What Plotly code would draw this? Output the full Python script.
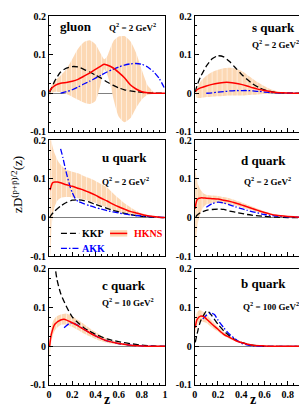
import plotly.graph_objects as go

# ---------------- data ----------------
flavors = ["gluon", "s quark", "u quark", "d quark", "c quark", "b quark"]
q2_labels = ["Q<sup>2</sup> = 2 GeV<sup>2</sup>", "Q<sup>2</sup> = 2 GeV<sup>2</sup>",
             "Q<sup>2</sup> = 2 GeV<sup>2</sup>", "Q<sup>2</sup> = 2 GeV<sup>2</sup>",
             "Q<sup>2</sup> = 10 GeV<sup>2</sup>", "Q<sup>2</sup> = 100 GeV<sup>2</sup>"]

# gluon
g_hkns_z = [0.005, 0.02, 0.05, 0.1, 0.15, 0.2, 0.25, 0.3, 0.35, 0.4, 0.45, 0.475, 0.5, 0.55, 0.6, 0.65, 0.7, 0.75, 0.8, 0.85, 0.9, 1.0]
g_hkns = [0.005, 0.012, 0.02, 0.026, 0.028, 0.031, 0.036, 0.044, 0.052, 0.062, 0.071, 0.075, 0.073, 0.066, 0.054, 0.04, 0.022, 0.011, 0.004, 0.001, 0.0, 0.0]
g_band_z = [0.005, 0.02, 0.05, 0.1, 0.15, 0.2, 0.25, 0.3, 0.35, 0.4, 0.45, 0.475, 0.5, 0.53, 0.56, 0.6, 0.65, 0.7, 0.75, 0.8, 0.85, 0.9]
g_band_hi = [0.008, 0.02, 0.032, 0.046, 0.063, 0.088, 0.115, 0.132, 0.137, 0.127, 0.1, 0.088, 0.095, 0.118, 0.137, 0.147, 0.148, 0.135, 0.105, 0.06, 0.02, 0.003]
g_band_lo = [-0.008, 0.0, 0.004, 0.003, -0.002, -0.009, -0.017, -0.024, -0.028, -0.02, 0.03, 0.062, 0.05, 0.02, -0.02, -0.06, -0.075, -0.065, -0.038, -0.016, -0.004, -0.001]
g_kkp_z = [0.005, 0.02, 0.05, 0.1, 0.15, 0.2, 0.25, 0.3, 0.35, 0.4, 0.45, 0.5, 0.55, 0.6, 0.65, 0.7, 0.75, 0.8, 0.85, 0.9, 1.0]
g_kkp = [0.002, 0.012, 0.032, 0.055, 0.065, 0.069, 0.068, 0.062, 0.055, 0.047, 0.039, 0.029, 0.021, 0.014, 0.009, 0.006, 0.004, 0.002, 0.001, 0.0, 0.0]
g_akk_z = [0.1, 0.15, 0.2, 0.25, 0.3, 0.35, 0.4, 0.45, 0.5, 0.55, 0.6, 0.65, 0.7, 0.75, 0.8, 0.85, 0.9, 0.95, 1.0]
g_akk = [0.0, 0.004, 0.009, 0.016, 0.024, 0.031, 0.039, 0.047, 0.055, 0.062, 0.068, 0.073, 0.076, 0.077, 0.075, 0.068, 0.056, 0.038, 0.01]

# s quark
s_z = [0.01, 0.02, 0.05, 0.1, 0.15, 0.2, 0.25, 0.3, 0.35, 0.4, 0.45, 0.5, 0.55, 0.6, 0.65, 0.7, 0.75, 0.8, 0.9, 1.0]
s_hkns = [0.005, 0.009, 0.014, 0.019, 0.023, 0.026, 0.028, 0.028, 0.026, 0.023, 0.019, 0.014, 0.01, 0.007, 0.004, 0.002, 0.001, 0.0005, 0.0, 0.0]
s_band_hi = [0.008, 0.014, 0.03, 0.045, 0.055, 0.061, 0.065, 0.066, 0.064, 0.058, 0.048, 0.037, 0.027, 0.018, 0.011, 0.006, 0.003, 0.001, 0.0, 0.0]
s_band_lo = [-0.008, -0.012, -0.012, -0.01, -0.009, -0.008, -0.007, -0.006, -0.006, -0.006, -0.005, -0.004, -0.003, -0.002, -0.001, 0.0, 0.0, 0.0, 0.0, 0.0]
s_kkp_z = [0.005, 0.02, 0.05, 0.1, 0.15, 0.2, 0.25, 0.3, 0.35, 0.4, 0.45, 0.5, 0.55, 0.6, 0.65, 0.7, 0.75, 0.8, 0.9, 1.0]
s_kkp = [0.003, 0.02, 0.042, 0.07, 0.089, 0.097, 0.094, 0.082, 0.066, 0.05, 0.036, 0.024, 0.015, 0.009, 0.005, 0.002, 0.001, 0.0, 0.0, 0.0]
s_akk_z = [0.1, 0.15, 0.2, 0.25, 0.3, 0.35, 0.4, 0.45, 0.5, 0.55, 0.6, 0.65, 0.7, 0.8, 0.9, 1.0]
s_akk = [0.0, 0.001, 0.003, 0.004, 0.006, 0.007, 0.007, 0.007, 0.006, 0.005, 0.003, 0.002, 0.001, 0.0, 0.0, 0.0]

# u quark
u_z = [0.01, 0.02, 0.03, 0.05, 0.075, 0.1, 0.15, 0.2, 0.25, 0.3, 0.35, 0.4, 0.45, 0.5, 0.55, 0.6, 0.65, 0.7, 0.75, 0.8, 0.85, 0.9, 0.95, 1.0]
u_hkns = [0.071, 0.083, 0.09, 0.092, 0.092, 0.09, 0.085, 0.081, 0.076, 0.071, 0.065, 0.058, 0.05, 0.043, 0.035, 0.028, 0.022, 0.016, 0.012, 0.008, 0.005, 0.003, 0.001, 0.0]
u_band_hi = [0.21, 0.2, 0.185, 0.165, 0.148, 0.137, 0.124, 0.119, 0.115, 0.108, 0.102, 0.095, 0.087, 0.078, 0.064, 0.05, 0.037, 0.027, 0.018, 0.011, 0.007, 0.004, 0.002, 0.0]
u_band_lo = [-0.11, -0.04, 0.0, 0.03, 0.045, 0.051, 0.053, 0.052, 0.05, 0.047, 0.043, 0.038, 0.032, 0.026, 0.02, 0.015, 0.011, 0.008, 0.005, 0.003, 0.002, 0.001, 0.0, 0.0]
u_kkp_z = [0.005, 0.02, 0.05, 0.1, 0.15, 0.2, 0.25, 0.3, 0.35, 0.4, 0.45, 0.5, 0.55, 0.6, 0.65, 0.7, 0.75, 0.8, 0.85, 0.9, 1.0]
u_kkp = [0.0, 0.007, 0.017, 0.03, 0.039, 0.045, 0.046, 0.044, 0.04, 0.034, 0.029, 0.024, 0.019, 0.015, 0.011, 0.008, 0.005, 0.003, 0.002, 0.001, 0.0]
u_akk_z = [0.1, 0.12, 0.15, 0.18, 0.2, 0.225, 0.25, 0.3, 0.35, 0.4, 0.45, 0.5, 0.6, 0.7, 0.8, 0.9, 1.0]
u_akk = [0.178, 0.155, 0.115, 0.082, 0.065, 0.05, 0.042, 0.036, 0.031, 0.026, 0.022, 0.018, 0.012, 0.007, 0.004, 0.002, 0.0]

# d quark
d_z = [0.005, 0.01, 0.02, 0.03, 0.05, 0.075, 0.1, 0.15, 0.2, 0.25, 0.3, 0.35, 0.4, 0.45, 0.5, 0.55, 0.6, 0.65, 0.7, 0.8, 0.9, 1.0]
d_hkns = [0.023, 0.035, 0.046, 0.049, 0.051, 0.051, 0.05, 0.049, 0.048, 0.045, 0.042, 0.038, 0.033, 0.028, 0.023, 0.018, 0.013, 0.009, 0.006, 0.003, 0.001, 0.0]
d_band_hi = [0.125, 0.115, 0.098, 0.085, 0.072, 0.063, 0.059, 0.057, 0.056, 0.053, 0.05, 0.045, 0.04, 0.034, 0.028, 0.022, 0.016, 0.012, 0.008, 0.003, 0.001, 0.0]
d_band_lo = [-0.08, -0.06, -0.03, -0.01, 0.012, 0.027, 0.034, 0.038, 0.038, 0.036, 0.034, 0.031, 0.027, 0.022, 0.018, 0.014, 0.01, 0.007, 0.005, 0.002, 0.001, 0.0]
d_kkp_z = [0.01, 0.02, 0.05, 0.1, 0.15, 0.2, 0.25, 0.3, 0.35, 0.4, 0.45, 0.5, 0.6, 0.7, 0.8, 0.9, 1.0]
d_kkp = [0.002, 0.006, 0.013, 0.019, 0.021, 0.022, 0.021, 0.017, 0.014, 0.011, 0.008, 0.006, 0.003, 0.001, 0.0, 0.0, 0.0]
d_akk_z = [0.1, 0.15, 0.2, 0.25, 0.3, 0.35, 0.4, 0.45, 0.5, 0.6, 0.7, 0.8, 0.9, 1.0]
d_akk = [0.027, 0.036, 0.04, 0.038, 0.033, 0.028, 0.023, 0.019, 0.015, 0.008, 0.004, 0.002, 0.001, 0.0]

# c quark
c_hkns_z = [0.005, 0.02, 0.05, 0.1, 0.13, 0.2, 0.25, 0.3, 0.35, 0.4, 0.45, 0.5, 0.6, 0.7, 0.8, 0.9, 1.0]
c_hkns = [0.0, 0.031, 0.057, 0.068, 0.07, 0.061, 0.053, 0.044, 0.035, 0.027, 0.02, 0.014, 0.007, 0.003, 0.001, 0.0, 0.0]
c_band_z = [0.005, 0.02, 0.04, 0.06, 0.1, 0.15, 0.2, 0.25, 0.3, 0.35, 0.4, 0.45, 0.5, 0.6, 0.7, 0.8]
c_band_hi = [0.01, 0.05, 0.068, 0.076, 0.082, 0.085, 0.078, 0.068, 0.058, 0.047, 0.037, 0.028, 0.02, 0.01, 0.004, 0.001]
c_band_lo = [-0.025, 0.01, 0.035, 0.045, 0.055, 0.056, 0.05, 0.042, 0.033, 0.026, 0.019, 0.013, 0.009, 0.004, 0.001, 0.0]
c_kkp_z = [0.04, 0.055, 0.07, 0.1, 0.15, 0.2, 0.25, 0.3, 0.35, 0.4, 0.5, 0.6, 0.7, 0.8, 0.9, 1.0]
c_kkp = [0.24, 0.2, 0.171, 0.137, 0.103, 0.076, 0.061, 0.048, 0.039, 0.031, 0.019, 0.012, 0.007, 0.003, 0.001, 0.0]
c_akk_z = [0.13, 0.17, 0.2, 0.25, 0.3, 0.4, 0.5, 0.6, 0.7, 0.8, 0.9, 1.0]
c_akk = [0.048, 0.058, 0.061, 0.054, 0.044, 0.027, 0.014, 0.007, 0.003, 0.001, 0.0, 0.0]

# b quark
b_hkns_z = [0.005, 0.02, 0.05, 0.08, 0.1, 0.15, 0.2, 0.25, 0.3, 0.35, 0.4, 0.5, 0.6, 0.7, 0.8, 0.9, 1.0]
b_hkns = [0.048, 0.069, 0.078, 0.076, 0.071, 0.057, 0.044, 0.031, 0.023, 0.015, 0.01, 0.003, 0.001, 0.0, 0.0, 0.0, 0.0]
b_band_z = [0.005, 0.02, 0.04, 0.06, 0.1, 0.15, 0.2, 0.25, 0.3, 0.35, 0.4, 0.5, 0.6]
b_band_hi = [0.065, 0.088, 0.093, 0.092, 0.083, 0.066, 0.05, 0.037, 0.027, 0.018, 0.012, 0.004, 0.001]
b_band_lo = [0.03, 0.052, 0.063, 0.064, 0.06, 0.048, 0.038, 0.027, 0.019, 0.013, 0.008, 0.002, 0.0]
b_kkp_z = [0.005, 0.03, 0.05, 0.08, 0.1, 0.12, 0.15, 0.2, 0.25, 0.3, 0.35, 0.4, 0.5, 0.6, 0.7, 0.8, 0.9, 1.0]
b_kkp = [0.01, 0.044, 0.065, 0.082, 0.091, 0.089, 0.078, 0.057, 0.04, 0.027, 0.017, 0.01, 0.003, 0.0, 0.0, 0.0, 0.0, 0.0]
b_akk_z = [0.07, 0.1, 0.14, 0.17, 0.2, 0.25, 0.3, 0.35, 0.4, 0.45, 0.5, 0.6, 0.7, 0.8, 0.9, 1.0]
b_akk = [0.071, 0.08, 0.086, 0.082, 0.068, 0.048, 0.031, 0.019, 0.008, 0.004, 0.001, 0.0, 0.0, 0.0, 0.0, 0.0]

x_tickvals = [0, 0.2, 0.4, 0.6, 0.8, 1]
x_ticktext = ["0", "0.2", "0.4", "0.6", "0.8", "1"]
y_tickvals = [-0.1, 0, 0.1, 0.2]
y_ticktext = ["-0.1", "0", "0.1", "0.2"]

panels = [
    (g_band_z, g_band_hi, g_band_lo, g_hkns_z, g_hkns, g_kkp_z, g_kkp, g_akk_z, g_akk),
    (s_z, s_band_hi, s_band_lo, s_z, s_hkns, s_kkp_z, s_kkp, s_akk_z, s_akk),
    (u_z, u_band_hi, u_band_lo, u_z, u_hkns, u_kkp_z, u_kkp, u_akk_z, u_akk),
    (d_z, d_band_hi, d_band_lo, d_z, d_hkns, d_kkp_z, d_kkp, d_akk_z, d_akk),
    (c_band_z, c_band_hi, c_band_lo, c_hkns_z, c_hkns, c_kkp_z, c_kkp, c_akk_z, c_akk),
    (b_band_z, b_band_hi, b_band_lo, b_hkns_z, b_hkns, b_kkp_z, b_kkp, b_akk_z, b_akk),
]

# ---------------- styling ----------------
SERIF = "Liberation Serif"
BAND_BG = "#fcd8b4"
RED = "#ff0000"
BLUE = "#0000ff"
KKP_DASH = "6px,3px"
AKK_DASH = "6px,2px,1.5px,2px"

col_dom = [[0.0, 0.443], [0.556, 1.0]]
row_dom = [[0.686, 1.0], [0.349, 0.663], [0.0, 0.3145]]

fig = go.Figure()
for i, (bz, bhi, blo, hz, hv, kz, kv, az, av) in enumerate(panels):
    n = i + 1
    xa = "x" if n == 1 else f"x{n}"
    ya = "y" if n == 1 else f"y{n}"
    fig.add_trace(go.Scatter(
        x=list(bz) + list(bz)[::-1], y=list(bhi) + list(blo)[::-1],
        fill="toself", mode="lines", line=dict(width=0, shape="spline", smoothing=0.6),
        fillcolor=BAND_BG,
        fillpattern=dict(shape="|", bgcolor=BAND_BG, fgcolor="white", size=5, solidity=0.2),
        xaxis=xa, yaxis=ya, showlegend=False, hoverinfo="skip"))
    fig.add_trace(go.Scatter(x=kz, y=kv, mode="lines",
                             line=dict(color="black", width=1.3, dash=KKP_DASH, shape="spline", smoothing=0.6),
                             xaxis=xa, yaxis=ya, showlegend=False))
    fig.add_trace(go.Scatter(x=az, y=av, mode="lines",
                             line=dict(color=BLUE, width=1.3, dash=AKK_DASH, shape="spline", smoothing=0.6),
                             xaxis=xa, yaxis=ya, showlegend=False))
    fig.add_trace(go.Scatter(x=hz, y=hv, mode="lines",
                             line=dict(color=RED, width=1.5, shape="spline", smoothing=0.6),
                             xaxis=xa, yaxis=ya, showlegend=False))

layout = dict(
    width=307, height=407,
    margin=dict(l=41, r=2, t=5, b=30),
    paper_bgcolor="white", plot_bgcolor="white",
    showlegend=False,
)
tickfont = dict(family=SERIF, size=10, color="black", weight="bold")
for i in range(6):
    n = i + 1
    r, c = divmod(i, 2)
    xk = "xaxis" if n == 1 else f"xaxis{n}"
    yk = "yaxis" if n == 1 else f"yaxis{n}"
    ya = "y" if n == 1 else f"y{n}"
    xa = "x" if n == 1 else f"x{n}"
    layout[xk] = dict(domain=col_dom[c], anchor=ya, range=[0, 1], showgrid=False, zeroline=False,
                      showline=True, linecolor="black", linewidth=1, mirror=True,
                      ticks="inside", ticklen=4, tickcolor="black", tickwidth=1,
                      tickvals=x_tickvals, ticktext=x_ticktext, showticklabels=(r == 2),
                      tickfont=tickfont,
                      minor=dict(dtick=0.05, tick0=0, ticks="inside", ticklen=2, tickcolor="black"))
    layout[yk] = dict(domain=row_dom[r], anchor=xa, range=[-0.1, 0.2], showgrid=False,
                      zeroline=True, zerolinecolor="#808080", zerolinewidth=1,
                      showline=True, linecolor="black", linewidth=1, mirror=True,
                      ticks="inside", ticklen=4, tickcolor="black", tickwidth=1,
                      tickvals=y_tickvals, ticktext=y_ticktext, tickfont=tickfont,
                      minor=dict(dtick=0.025, tick0=0, ticks="inside", ticklen=2, tickcolor="black"))
fig.update_layout(**layout)

# panel labels: (title x, title y, q2 x, q2 y) in axis-domain fractions
label_pos = [
    (0.08, 0.91, 0.503, 0.908),
    (0.473, 0.90, 0.479, 0.762),
    (0.443, 0.848, 0.443, 0.647),
    (0.383, 0.827, 0.411, 0.647),
    (0.443, 0.857, 0.443, 0.715),
    (0.383, 0.871, 0.402, 0.68),
]
ann = []
shapes = []
for i, (tx, ty, qx, qy) in enumerate(label_pos):
    n = i + 1
    xa = "x" if n == 1 else f"x{n}"
    ya = "y" if n == 1 else f"y{n}"
    ann.append(dict(text=flavors[i], xref=f"{xa} domain", yref=f"{ya} domain", x=tx, y=ty,
                    xanchor="left", yanchor="middle", showarrow=False,
                    font=dict(family=SERIF, size=13, color="black", weight="bold")))
    ann.append(dict(text=q2_labels[i], xref=f"{xa} domain", yref=f"{ya} domain", x=qx, y=qy,
                    xanchor="left", yanchor="middle", showarrow=False,
                    font=dict(family=SERIF, size=9, color="black", weight="bold")))

# y title and x titles
ann.append(dict(text="zD<sup>(p+p\u0304)/2</sup>(z)", xref="paper", yref="paper", x=-0.125, y=0.543,
                textangle=-90, showarrow=False, xanchor="center", yanchor="middle",
                font=dict(family=SERIF, size=13, color="black")))
for xc in [0.223, 0.78]:
    ann.append(dict(text="z", xref="paper", yref="paper", x=xc, y=-0.038, showarrow=False,
                    xanchor="center", yanchor="middle",
                    font=dict(family=SERIF, size=14, color="black", weight="bold")))

# legend in u-quark panel (axis x3/y3 domain fractions)
lx0, lx1, ltx = 0.103, 0.26, 0.27
hx0, hx1, htx = 0.526, 0.674, 0.717
ky, ay, hy = 0.197, 0.067, 0.197
shapes.append(dict(type="line", xref="x3 domain", yref="y3 domain", x0=lx0, x1=lx1, y0=ky, y1=ky,
                   line=dict(color="black", width=1.3, dash=KKP_DASH)))
shapes.append(dict(type="line", xref="x3 domain", yref="y3 domain", x0=lx0, x1=lx1, y0=ay, y1=ay,
                   line=dict(color=BLUE, width=1.3, dash=AKK_DASH)))
shapes.append(dict(type="rect", xref="x3 domain", yref="y3 domain", x0=hx0, x1=hx1, y0=hy - 0.028, y1=hy + 0.028,
                   fillcolor=BAND_BG, line=dict(width=0)))
shapes.append(dict(type="line", xref="x3 domain", yref="y3 domain", x0=hx0, x1=hx1, y0=hy, y1=hy,
                   line=dict(color=RED, width=1.5)))
ann.append(dict(text="KKP", xref="x3 domain", yref="y3 domain", x=ltx, y=ky, xanchor="left", yanchor="middle",
                showarrow=False, font=dict(family=SERIF, size=10, color="black", weight="bold")))
ann.append(dict(text="AKK", xref="x3 domain", yref="y3 domain", x=ltx, y=ay, xanchor="left", yanchor="middle",
                showarrow=False, font=dict(family=SERIF, size=10, color=BLUE, weight="bold")))
ann.append(dict(text="HKNS", xref="x3 domain", yref="y3 domain", x=htx, y=hy, xanchor="left", yanchor="middle",
                showarrow=False, font=dict(family=SERIF, size=10, color=RED, weight="bold")))

fig.update_layout(annotations=ann, shapes=shapes)
fig.write_html("out.html")
